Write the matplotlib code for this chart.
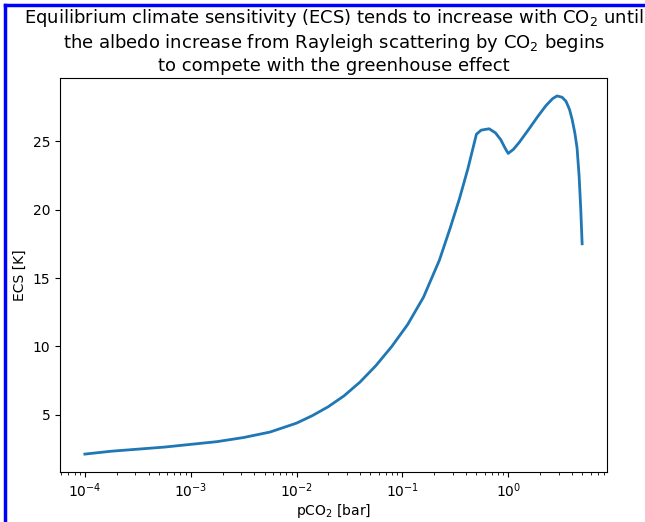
import matplotlib
matplotlib.use("Agg")
import matplotlib.pyplot as plt
from matplotlib.lines import Line2D

# log10(pCO2 [bar]) and ECS [K]
log_pco2 = [-4.0, -3.75, -3.5, -3.25, -3.0, -2.75, -2.5, -2.25, -2.0, -1.85,
            -1.7, -1.55, -1.4, -1.25, -1.1, -0.95, -0.8, -0.65, -0.55, -0.46,
            -0.38, -0.30, -0.255, -0.18, -0.12, -0.07, -0.03, 0.0, 0.05,
            0.104, 0.198, 0.28, 0.358, 0.42, 0.462, 0.51, 0.547, 0.58, 0.604,
            0.63, 0.651, 0.67, 0.685, 0.699]
ecs = [2.14, 2.35, 2.5, 2.65, 2.85, 3.05, 3.35, 3.75, 4.4, 4.95,
       5.6, 6.4, 7.4, 8.6, 10.0, 11.6, 13.6, 16.3, 18.6, 20.8,
       23.0, 25.5, 25.8, 25.9, 25.6, 25.1, 24.5, 24.1, 24.4,
       24.9, 25.9, 26.8, 27.6, 28.1, 28.3, 28.2, 27.9, 27.3, 26.6,
       25.6, 24.5, 22.5, 20.2, 17.5]
pco2 = [10 ** v for v in log_pco2]

title = ("Equilibrium climate sensitivity (ECS) tends to increase with CO$_2$ until\n"
         "the albedo increase from Rayleigh scattering by CO$_2$ begins\n"
         "to compete with the greenhouse effect")

fig = plt.figure(figsize=(6.45, 5.22), dpi=100)
ax = fig.add_axes([60 / 645, 1 - 472 / 522, (607 - 60) / 645, (472 - 78) / 522])
ax.plot(pco2, ecs, color="#1f77b4", lw=2)
ax.set_xscale("log")
ax.set_yticks([5, 10, 15, 20, 25])
ax.tick_params(labelsize=10)
ax.set_xlabel("pCO$_2$ [bar]", fontsize=10, labelpad=1)
ax.set_ylabel("ECS [K]", fontsize=10)
ax.set_title(title, fontsize=13, pad=5)

# blue border on the left and top
fig.add_artist(Line2D([5 / 645, 5 / 645], [0, 1 - 5 / 522], color="blue", lw=2.5,
                      transform=fig.transFigure))
fig.add_artist(Line2D([5 / 645, 1], [1 - 5 / 522, 1 - 5 / 522], color="blue", lw=2.5,
                      transform=fig.transFigure))

fig.savefig("out.png", dpi=100)
